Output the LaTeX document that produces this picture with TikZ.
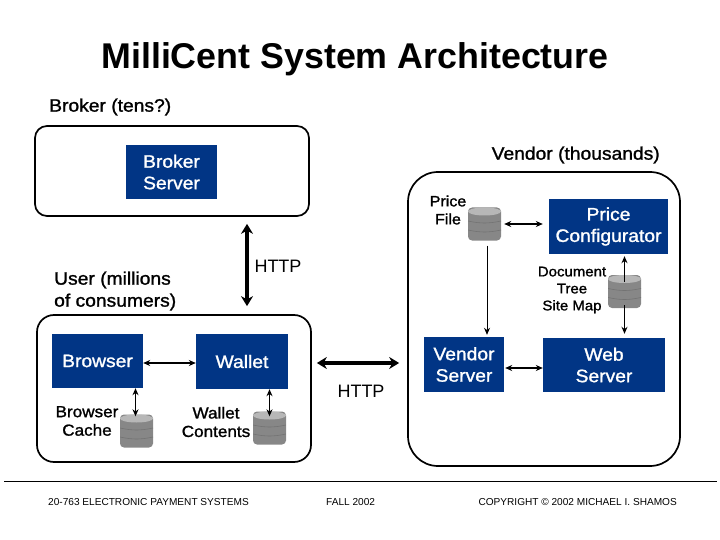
\documentclass[tikz,border=0pt]{standalone}
\usepackage{fontspec}
\setmainfont{Liberation Sans}
\newfontfamily\midfont[FakeBold=1.3, FakeStretch=1.07]{Liberation Sans}
\usetikzlibrary{arrows.meta}
\definecolor{boxblue}{RGB}{1,53,133}
\definecolor{dbgray}{RGB}{135,135,135}
\begin{document}
\begin{tikzpicture}[
                x=1pt, y=-1pt,
                outerbox/.style={
                    draw, line width=1.7pt, inner sep=0pt
                },
                serverbox/.style={
                    fill=boxblue, text=white, inner sep=0pt, align=center,
                    font=\fontsize{18}{21.5}\selectfont\midfont
                },
                dbstore/.style={
                    rounded corners=4pt, fill=dbgray, inner sep=0pt,
                    minimum width=33pt, minimum height=33pt,
                    path picture={
                        \fill[dbgray!60] ([yshift=-4pt]path picture bounding box.north) ellipse [x radius=16.5pt, y radius=4pt];
                        \draw[black!55, line width=0.6pt] ([yshift=3pt]path picture bounding box.west) to[bend right=12] ([yshift=3pt]path picture bounding box.east);
                        \draw[black!55, line width=0.6pt] ([yshift=-6pt]path picture bounding box.west) to[bend right=12] ([yshift=-6pt]path picture bounding box.east);
                    }
                },
                caption/.style={
                    align=center, inner sep=0pt, font=\fontsize{16}{18.5}\selectfont\midfont
                },
                bigcaption/.style={
                    align=left, inner sep=0pt, font=\fontsize{18}{22}\selectfont\midfont
                },
                httplabel/.style={
                    inner sep=0pt, font=\fontsize{18}{22}\selectfont
                },
                footer/.style={
                    inner sep=0pt, font=\fontsize{10.1}{12}\selectfont
                },
                thinarrow/.style={
                    {Stealth[length=7pt,width=6pt]}-{Stealth[length=7pt,width=6pt]}, line width=1.1pt
                },
                bigarrow/.style={
                    {Stealth[length=10pt,width=12pt]}-{Stealth[length=10pt,width=12pt]}, line width=3.2pt
                }
            ]
            \useasboundingbox (0, 0) rectangle (720, 540);

            \node[inner sep=0pt, font=\fontsize{35.8}{40}\selectfont\bfseries] (title) at (355, 59) {MilliCent System Architecture};

            % outer boxes
            \node[outerbox, rounded corners=12pt, minimum width=274pt, minimum height=90pt] (broker) at (172, 171) {};
            \node[outerbox, rounded corners=17pt, minimum width=274pt, minimum height=147pt] (user) at (174, 388.5) {};
            \node[outerbox, rounded corners=30pt, minimum width=272pt, minimum height=294pt] (vendor) at (544, 319) {};

            % servers
            \node[serverbox, minimum width=91pt, minimum height=54pt] (bserver) at (171.5, 172) {Broker\\Server};
            \node[serverbox, minimum width=119pt, minimum height=55pt] (config) at (608.5, 226.5) {Price\\Configurator};
            \node[serverbox, minimum width=91pt, minimum height=54pt] (browser) at (97.5, 361) {Browser};
            \node[serverbox, minimum width=92pt, minimum height=55pt] (wallet) at (242, 361.5) {Wallet};
            \node[serverbox, minimum width=80pt, minimum height=55pt] (vserver) at (464, 364.5) {Vendor\\Server};
            \node[serverbox, minimum width=122pt, minimum height=54pt] (web) at (604, 365) {Web\\Server};

            % databases
            \node[dbstore] (pfile) at (484.5, 224) {};
            \node[dbstore] (doctree) at (624.5, 291.5) {};
            \node[dbstore] (cache) at (136.5, 431) {};
            \node[dbstore] (contents) at (269.5, 428) {};

            % labels
            \node[bigcaption, anchor=west] (brokerlabel) at (49, 107) {Broker (tens?)};
            \node[bigcaption, anchor=east] (vendorlabel) at (660, 155) {Vendor (thousands)};
            \node[bigcaption, anchor=west] (userlabel) at (54, 291) {User (millions\\of consumers)};
            \node[caption, font=\fontsize{15}{18}\selectfont\midfont] (pfilelabel) at (448, 210) {Price\\File};
            \node[caption, font=\fontsize{14}{17}\selectfont\midfont] (doclabel) at (572, 290) {Document\\Tree\\Site Map};
            \node[caption] (cachelabel) at (87, 421) {Browser\\Cache};
            \node[caption] (contentslabel) at (216, 422) {Wallet\\Contents};
            \node[httplabel] (httpa) at (278, 266) {HTTP};
            \node[httplabel] (httpb) at (361, 391) {HTTP};

            % footer
            \node[footer, anchor=west] (foota) at (48, 502) {20-763 ELECTRONIC PAYMENT SYSTEMS};
            \node[footer, anchor=west] (footb) at (326, 502) {FALL 2002};
            \node[footer, anchor=east] (footc) at (677, 502) {COPYRIGHT © 2002 MICHAEL I. SHAMOS};
            \coordinate (ruleleft) at (4, 481);
            \coordinate (ruleright) at (717, 481);
            \draw[line width=0.8pt] (ruleleft) -- (ruleright);

            % arrows
            \draw[bigarrow] ([xshift=75pt, yshift=-7pt]broker.south) -- ([xshift=73pt, yshift=8pt]user.north);
            \draw[bigarrow] ([xshift=5pt, yshift=25.5pt]user.east) -- ([xshift=-8pt, yshift=-44pt]vendor.west);
            \draw[thinarrow] ([yshift=-2pt]browser.east) -- ([yshift=-1.5pt]wallet.west);
            \draw[thinarrow] ([xshift=-1pt]browser.south -| cache.north) -- ([xshift=-1pt, yshift=-2pt]cache.north);
            \draw[thinarrow] (wallet.south -| contents.north) -- ([yshift=-5pt]contents.north);
            \draw[thinarrow] ([xshift=3pt]pfile.east) -- ([xshift=-6pt, yshift=2.5pt]config.west);
            \draw[-{Stealth[length=7pt,width=6pt]}, line width=0.9pt] ([xshift=2.5pt, yshift=-5pt]pfile.south) -- ([xshift=2.5pt, yshift=2pt]pfile.south |- vserver.north);
            \draw[-{Stealth[length=7pt,width=6pt]}, line width=1.4pt] ([yshift=-7pt]doctree.north) -- ([xshift=16pt, yshift=-2pt]config.south);
            \draw[-{Stealth[length=7pt,width=6pt]}, line width=1.4pt] ([yshift=3pt]doctree.south) -- ([yshift=4pt]doctree.south |- web.north);
            \draw[thinarrow] ([xshift=1pt, yshift=-3.5pt]vserver.east) -- ([yshift=-3pt]web.west);
            \end{tikzpicture}
\end{document}
